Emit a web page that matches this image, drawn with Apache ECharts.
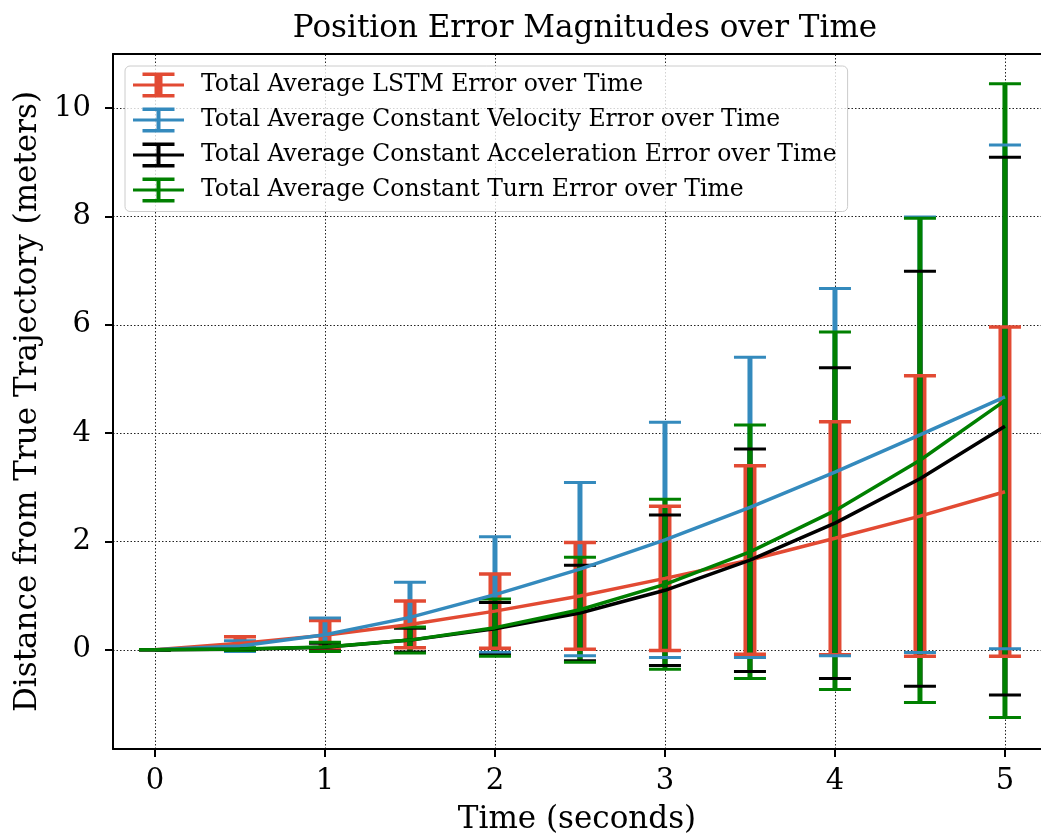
<!DOCTYPE html>
<html>
<head>
<meta charset="utf-8">
<script src="https://cdn.jsdelivr.net/npm/echarts@6/dist/echarts.min.js"></script>
<style>
html,body{margin:0;padding:0;background:#fff;}
#chart{width:1041px;height:840px;}
</style>
</head>
<body>
<div id="chart"></div>
<script>
// ---- data ----
const times = [0, 0.5, 1, 1.5, 2, 2.5, 3, 3.5, 4, 4.5, 5];
const lstmMean = [0, 0.12, 0.27, 0.47, 0.715, 0.995, 1.32, 1.66, 2.06, 2.47, 2.92];
const lstmErr  = [0, 0.12, 0.27, 0.43, 0.685, 0.985, 1.33, 1.74, 2.15, 2.59, 3.04];
const cvMean = [0, 0.07, 0.28, 0.60, 1.02, 1.49, 2.03, 2.63, 3.28, 3.97, 4.67];
const cvErr  = [0, 0.10, 0.31, 0.65, 1.07, 1.60, 2.17, 2.77, 3.39, 4.02, 4.65];
const caMean = [0, 0.01, 0.05, 0.18, 0.39, 0.68, 1.10, 1.655, 2.34, 3.16, 4.13];
const caErr  = [0, 0.02, 0.07, 0.22, 0.485, 0.88, 1.39, 2.055, 2.87, 3.83, 4.965];
const ctMean = [0, 0.015, 0.055, 0.18, 0.41, 0.74, 1.21, 1.81, 2.57, 3.50, 4.60];
const ctErr  = [0, 0.025, 0.085, 0.24, 0.53, 0.97, 1.57, 2.34, 3.30, 4.47, 5.85];
const seriesNames = [
  'Total Average LSTM Error over Time',
  'Total Average Constant Velocity Error over Time',
  'Total Average Constant Acceleration Error over Time',
  'Total Average Constant Turn Error over Time'
];
const xTicks = [0, 1, 2, 3, 4, 5];
const yTicks = [0, 2, 4, 6, 8, 10];

// ---- styling ----
const FONT = "'DejaVu Serif', serif";
const colors = ['#E24A33', '#348ABD', '#000000', '#008000'];
const barWidths = [13, 5, 5, 5];
const capWidths = [3.5, 3, 3, 3];
const CAP_HALF = 16;

const means = [lstmMean, cvMean, caMean, ctMean];
const errs = [lstmErr, cvErr, caErr, ctErr];

function iconPath(vw) {
  const c = 25.5, h = vw / 2;
  return 'path://M0 11 L51 11 L51 14 L0 14 Z ' +
    'M' + (c - h) + ' 0 L' + (c + h) + ' 0 L' + (c + h) + ' 25 L' + (c - h) + ' 25 Z ' +
    'M9.5 0 L41.5 0 L41.5 3.5 L9.5 3.5 Z M9.5 21.5 L41.5 21.5 L41.5 25 L9.5 25 Z ' +
    'M63 12 L63 13 Z';
}

const series = [];
// grid lines
series.push({
  type: 'line', name: '_grid', data: [], z: 0, silent: true,
  markLine: {
    z: 0,
    silent: true, symbol: ['none', 'none'], label: {show: false},
    lineStyle: {color: '#222', type: [1.5, 2], width: 1},
    animation: false,
    data: yTicks.map(v => ({yAxis: v})).concat(xTicks.map(v => ({xAxis: v})))
  }
});

for (let s = 0; s < 4; s++) {
  const d = times.map((t, i) => [t, means[s][i], errs[s][i]]);
  series.push({
    type: 'custom', name: '_bar' + s, z: 2, silent: true,
    data: d,
    renderItem: function (params, api) {
      const x = api.value(0), m = api.value(1), e = api.value(2);
      const top = api.coord([x, m + e]);
      const bot = api.coord([x, m - e]);
      return {
        type: 'line',
        shape: {x1: top[0], y1: top[1], x2: bot[0], y2: bot[1]},
        style: {stroke: colors[s], lineWidth: barWidths[s]}
      };
    }
  });
}
for (let s = 0; s < 4; s++) {
  const d = times.map((t, i) => [t, means[s][i], errs[s][i]]);
  series.push({
    type: 'custom', name: '_cap' + s, z: 3, silent: true,
    data: d,
    renderItem: function (params, api) {
      const x = api.value(0), m = api.value(1), e = api.value(2);
      const top = api.coord([x, m + e]);
      const bot = api.coord([x, m - e]);
      return {
        type: 'group',
        children: [
          {type: 'line', shape: {x1: top[0] - CAP_HALF, y1: top[1], x2: top[0] + CAP_HALF, y2: top[1]},
           style: {stroke: colors[s], lineWidth: capWidths[s]}},
          {type: 'line', shape: {x1: bot[0] - CAP_HALF, y1: bot[1], x2: bot[0] + CAP_HALF, y2: bot[1]},
           style: {stroke: colors[s], lineWidth: capWidths[s]}}
        ]
      };
    }
  });
}
for (let s = 0; s < 4; s++) {
  series.push({
    type: 'line', name: seriesNames[s], z: 4,
    data: times.map((t, i) => [t, means[s][i]]),
    showSymbol: false, symbol: 'none',
    color: colors[s],
    lineStyle: {color: colors[s], width: 3.5},
    silent: true
  });
}

const chart = echarts.init(document.getElementById('chart'), null, {renderer: 'canvas'});
chart.setOption({
  animation: false,
  backgroundColor: '#ffffff',
  title: {
    text: 'Position Error Magnitudes over Time',
    left: 580, top: 8, textAlign: 'center',
    textStyle: {fontFamily: FONT, fontSize: 31, fontWeight: 'normal', color: '#000'}
  },
  legend: {
    orient: 'vertical', left: 125, top: 66,
    padding: [6.5, 11, 9, 8], itemGap: 10,
    itemWidth: 63, itemHeight: 25,
    borderColor: '#cccccc', borderWidth: 1, borderRadius: 5,
    backgroundColor: 'rgba(255,255,255,0.8)',
    textStyle: {fontFamily: FONT, fontSize: 23.5, lineHeight: 25, color: '#000'},
    data: seriesNames.map((n, i) => ({name: n, icon: iconPath(i === 0 ? 8 : 4)}))
  },
  grid: {
    left: 113, top: 54, right: 0, bottom: 91,
    show: false
  },
  xAxis: [{
    type: 'value', min: -0.247, max: 5.212,
    name: 'Time (seconds)', nameLocation: 'middle', nameGap: 55,
    nameTextStyle: {fontFamily: FONT, fontSize: 31, color: '#000'},
    axisLine: {show: true, onZero: false, lineStyle: {color: '#000', width: 2}},
    axisTick: {show: true, length: 8, customValues: xTicks, lineStyle: {color: '#000', width: 2}},
    axisLabel: {customValues: xTicks, fontFamily: FONT, fontSize: 29, color: '#000', margin: 18},
    splitLine: {show: false}
  }, {
    type: 'value', min: -0.247, max: 5.212, position: 'top',
    axisLine: {show: true, onZero: false, lineStyle: {color: '#000', width: 2}},
    axisTick: {show: false}, axisLabel: {show: false}, splitLine: {show: false}
  }],
  yAxis: {
    type: 'value', min: -1.83, max: 11.0,
    name: 'Distance from True Trajectory (meters)', nameLocation: 'middle', nameGap: 68,
    nameTextStyle: {fontFamily: FONT, fontSize: 31, color: '#000'},
    axisLine: {show: true, onZero: false, lineStyle: {color: '#000', width: 2}},
    axisTick: {show: true, length: 8, customValues: yTicks, lineStyle: {color: '#000', width: 2}},
    axisLabel: {customValues: yTicks, fontFamily: FONT, fontSize: 29, color: '#000', margin: 22},
    splitLine: {show: false}
  },
  series: series
});
</script>
</body>
</html>
